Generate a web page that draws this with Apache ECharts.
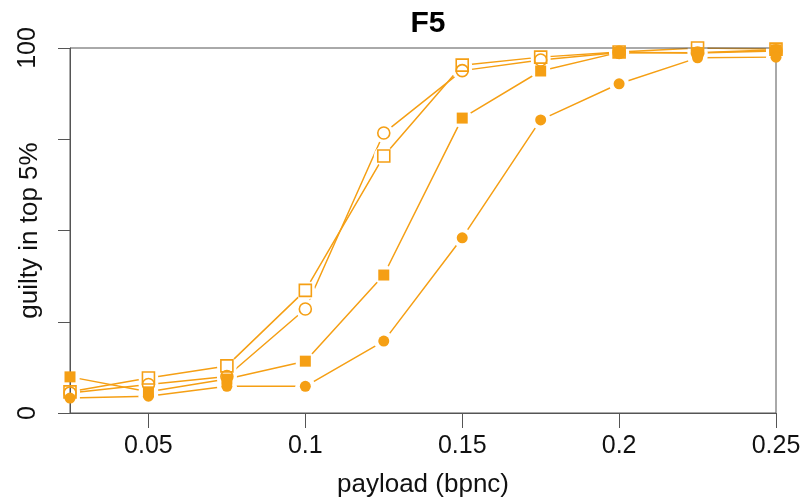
<!DOCTYPE html>
<html>
<head>
<meta charset="utf-8">
<script src="https://cdn.jsdelivr.net/npm/echarts@6/dist/echarts.min.js"></script>
<style>
  html, body { margin: 0; padding: 0; background: #fff; }
  #chart { width: 805px; height: 503px; }
</style>
</head>
<body>
<div id="chart"></div>
<script>
// payload values on the x axis
const payload = [0.025, 0.05, 0.075, 0.1, 0.125, 0.15, 0.175, 0.2, 0.225, 0.25];
const xTicks = [0.05, 0.1, 0.15, 0.2, 0.25];
const yTicks = [0, 25, 50, 75, 100];
const yLabels = [0, 100];

// guilty in top 5%
const openSquare = [5.8, 9.6, 12.9, 33.6, 70.4, 95.3, 97.5, 98.9, 100, 99.7];
const openCircle = [5.5, 7.8, 10.0, 28.5, 76.7, 93.8, 96.7, 98.8, 98.6, 99.2];
const filledSquare = [9.9, 5.8, 9.3, 14.2, 37.8, 80.8, 93.7, 98.8, 98.7, 99.5];
const filledCircle = [4.1, 4.6, 7.3, 7.3, 19.7, 48, 80.3, 90.2, 97.3, 97.5];

const orange = "#f59f14";
const axisGrey = "#555";
const font = "Liberation Sans, Arial, sans-serif";

function pairs(vals) {
  return payload.map((x, i) => [x, vals[i]]);
}

const sets = [
  { vals: openSquare, symbol: "rect", size: 12, open: true },
  { vals: openCircle, symbol: "circle", size: 12, open: true },
  { vals: filledSquare, symbol: "rect", size: 11, open: false },
  { vals: filledCircle, symbol: "circle", size: 11, open: false },
];

let series = [];
// plain lines first
sets.forEach((s) => {
  series.push({
    type: "line",
    data: pairs(s.vals),
    showSymbol: false,
    lineStyle: { color: orange, width: 1.5 },
    silent: true,
    z: 2,
  });
});
// white halos so the lines stop short of the points (R type="b")
sets.forEach((s) => {
  series.push({
    type: "scatter",
    data: pairs(s.vals),
    symbol: "circle",
    symbolSize: 20,
    itemStyle: { color: "#fff", borderWidth: 0, opacity: 1 },
    silent: true,
    z: 3,
  });
});
// the markers on top
sets.forEach((s) => {
  series.push({
    type: "scatter",
    data: pairs(s.vals),
    symbol: s.symbol,
    symbolSize: s.size,
    itemStyle: s.open
      ? { color: "rgba(255,255,255,0)", borderColor: orange, borderWidth: 1.6, opacity: 1 }
      : { color: orange, borderWidth: 0, opacity: 1 },
    z: 5,
  });
});

const chart = echarts.init(document.getElementById("chart"));
chart.setOption({
  animation: false,
  backgroundColor: "#fff",
  title: {
    text: "F5",
    left: 423,
    textAlign: "center",
    top: 4,
    textStyle: { fontFamily: font, fontSize: 30, fontWeight: "bold", color: "#000" },
  },
  grid: {
    left: 70,
    right: 29,
    top: 48,
    bottom: 90,
    outerBoundsMode: "none",
    containLabel: false,
    show: true,
    borderColor: axisGrey,
    borderWidth: 1,
    z: 4,
  },
  xAxis: {
    type: "value",
    min: 0.025,
    max: 0.25,
    z: 4,
    name: "payload (bpnc)",
    nameLocation: "middle",
    nameGap: 59,
    nameMoveOverlap: false,
    nameTextStyle: { fontFamily: font, fontSize: 26, color: "#111" },
    axisLine: { show: true, lineStyle: { color: axisGrey } },
    axisTick: { show: true, inside: false, length: 15, customValues: xTicks, lineStyle: { color: axisGrey } },
    axisLabel: {
      customValues: xTicks,
      margin: 21,
      fontFamily: font,
      fontSize: 25,
      color: "#111",
      formatter: (v) => String(+v.toFixed(3)),
    },
    splitLine: { show: false },
  },
  yAxis: {
    type: "value",
    min: 0,
    max: 100,
    interval: 25,
    z: 4,
    name: "guilty in top 5%",
    nameLocation: "middle",
    nameRotate: 90,
    nameGap: 27,
    nameMoveOverlap: false,
    nameTextStyle: { fontFamily: font, fontSize: 26, color: "#111" },
    axisLine: { show: true, lineStyle: { color: axisGrey } },
    axisTick: { show: true, inside: false, length: 12, customValues: yTicks, lineStyle: { color: axisGrey } },
    axisLabel: {
      customValues: yLabels,
      rotate: 90,
      margin: 29,
      fontFamily: font,
      fontSize: 25,
      color: "#111",
    },
    splitLine: { show: false },
  },
  series: series,
});
</script>
</body>
</html>
